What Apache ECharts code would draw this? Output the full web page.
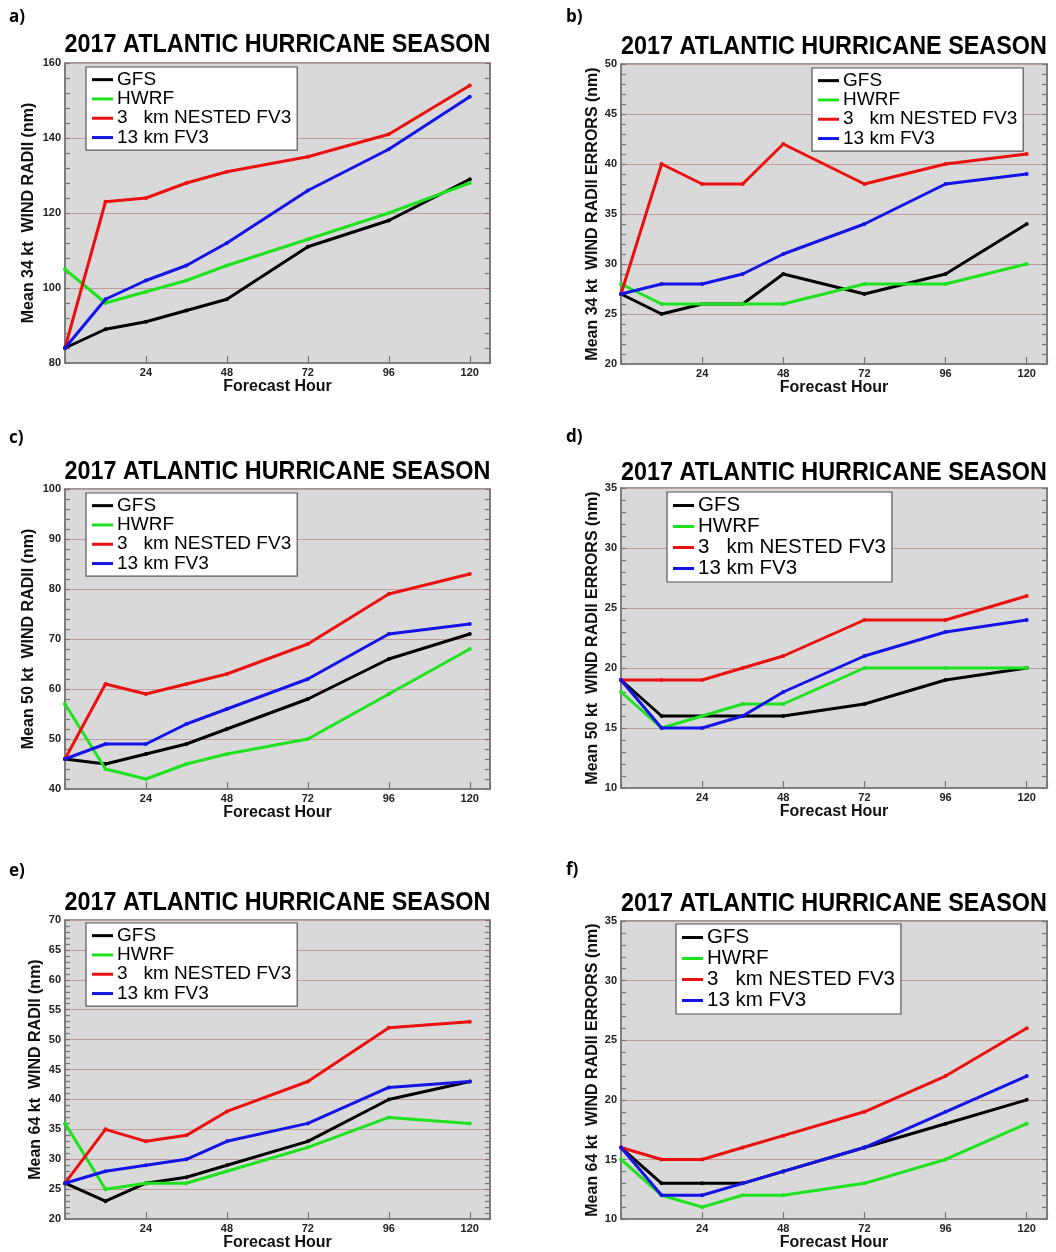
<!DOCTYPE html>
<html>
<head>
<meta charset="utf-8">
<script src="https://cdn.jsdelivr.net/npm/echarts@6/dist/echarts.min.js"></script>
<style>
html,body{margin:0;padding:0;background:#fff;}
#chart{width:1056px;height:1252px;}
</style>
</head>
<body>
<div id="chart"></div>
<script>
// ---------------- DATA ----------------
const hours = [0, 12, 24, 36, 48, 72, 96, 120];
const seriesNames = ['GFS', 'HWRF', '3   km NESTED FV3', '13 km FV3'];
const panelLetters = ['a)', 'b)', 'c)', 'd)', 'e)', 'f)'];
const titleText = '2017 ATLANTIC HURRICANE SEASON';
const xAxisTitle = 'Forecast Hour';
const yAxisTitles = [
  'Mean 34 kt  WIND RADII (nm)',
  'Mean 34 kt  WIND RADII ERRORS (nm)',
  'Mean 50 kt  WIND RADII (nm)',
  'Mean 50 kt  WIND RADII ERRORS (nm)',
  'Mean 64 kt  WIND RADII (nm)',
  'Mean 64 kt  WIND RADII ERRORS (nm)'
];
const yMin = [80, 20, 40, 10, 20, 10];
const yMax = [160, 50, 100, 35, 70, 35];
const yStep = [20, 5, 10, 5, 5, 5];
const xTicks = [24, 48, 72, 96, 120];

// a) Mean 34 kt wind radii
const a_gfs    = [84, 89, 91, 94, 97, 111, 118, 129];
const a_hwrf   = [105, 96, 99, 102, 106, 113, 120, 128];
const a_nested = [84, 123, 124, 128, 131, 135, 141, 154];
const a_fv3    = [84, 97, 102, 106, 112, 126, 137, 151];
// b) Mean 34 kt wind radii errors
const b_gfs    = [27, 25, 26, 26, 29, 27, 29, 34];
const b_hwrf   = [28, 26, 26, 26, 26, 28, 28, 30];
const b_nested = [27, 40, 38, 38, 42, 38, 40, 41];
const b_fv3    = [27, 28, 28, 29, 31, 34, 38, 39];
// c) Mean 50 kt wind radii
const c_gfs    = [46, 45, 47, 49, 52, 58, 66, 71];
const c_hwrf   = [57, 44, 42, 45, 47, 50, 59, 68];
const c_nested = [46, 61, 59, 61, 63, 69, 79, 83];
const c_fv3    = [46, 49, 49, 53, 56, 62, 71, 73];
// d) Mean 50 kt wind radii errors
const d_gfs    = [19, 16, 16, 16, 16, 17, 19, 20];
const d_hwrf   = [18, 15, 16, 17, 17, 20, 20, 20];
const d_nested = [19, 19, 19, 20, 21, 24, 24, 26];
const d_fv3    = [19, 15, 15, 16, 18, 21, 23, 24];
// e) Mean 64 kt wind radii
const e_gfs    = [26, 23, 26, 27, 29, 33, 40, 43];
const e_hwrf   = [36, 25, 26, 26, 28, 32, 37, 36];
const e_nested = [26, 35, 33, 34, 38, 43, 52, 53];
const e_fv3    = [26, 28, 29, 30, 33, 36, 42, 43];
// f) Mean 64 kt wind radii errors
const f_gfs    = [16, 13, 13, 13, 14, 16, 18, 20];
const f_hwrf   = [15, 12, 11, 12, 12, 13, 15, 18];
const f_nested = [16, 15, 15, 16, 17, 19, 22, 26];
const f_fv3    = [16, 12, 12, 13, 14, 16, 19, 22];

const panels = [
  [a_gfs, a_hwrf, a_nested, a_fv3],
  [b_gfs, b_hwrf, b_nested, b_fv3],
  [c_gfs, c_hwrf, c_nested, c_fv3],
  [d_gfs, d_hwrf, d_nested, d_fv3],
  [e_gfs, e_hwrf, e_nested, e_fv3],
  [f_gfs, f_hwrf, f_nested, f_fv3]
];

// ---------------- LAYOUT / STYLE ----------------
const lineColors = ['#000000', '#1fe21f', '#ea1010', '#1414e6'];
const grids = [
  {left: 65,  top: 63,  width: 425, height: 300},
  {left: 621, top: 64,  width: 426, height: 300},
  {left: 65,  top: 489, width: 425, height: 300},
  {left: 621, top: 488, width: 426, height: 300},
  {left: 65,  top: 920, width: 425, height: 300},
  {left: 621, top: 921, width: 426, height: 301}
];
const legendPos = [
  {left: 86,  top: 67,  fs: 19,   lh: 19.3},
  {left: 812, top: 68,  fs: 19,   lh: 19.3},
  {left: 86,  top: 493, fs: 19,   lh: 19.3},
  {left: 667, top: 492, fs: 20.5, lh: 20.3},
  {left: 86,  top: 923, fs: 19,   lh: 19.3},
  {left: 676, top: 924, fs: 20.5, lh: 20.3}
];
const titleY = [45, 47, 472, 473, 903, 904];
const letterPos = [[9, 17], [566, 17], [9, 438], [566, 437], [9, 871], [566, 870]];
const yNameGap = [28, 20, 28, 20, 21, 20];

const axisGray = '#777777';
const gridLineColor = '#c29c9c';
const plotBg = '#d9d9d9';
const FONT = 'Liberation Sans, Arial, sans-serif';

const option = {
  animation: false,
  backgroundColor: '#ffffff',
  grid: grids.map(g => Object.assign({}, g, {
    show: true, backgroundColor: plotBg, borderColor: axisGray, borderWidth: 1.5, containLabel: false
  })),
  xAxis: [],
  yAxis: [],
  legend: [],
  series: [],
  graphic: []
};

for (let i = 0; i < 6; i++) {
  option.xAxis.push({
    type: 'value', gridIndex: i, min: 0, max: 126, interval: 24,
    name: xAxisTitle, nameLocation: 'middle', nameGap: 15,
    nameTextStyle: {fontFamily: FONT, fontWeight: 'bold', fontSize: 16, color: '#111'},
    axisLine: {show: true, onZero: false, lineStyle: {color: axisGray, width: 1.5}},
    axisTick: {show: true, inside: true, length: 7, lineStyle: {color: axisGray, width: 1.2}},
    axisLabel: {
      show: true, margin: 4, fontFamily: FONT, fontWeight: 'bold', fontSize: 11, color: '#222',
      formatter: v => (xTicks.indexOf(v) >= 0 ? String(v) : '')
    },
    splitLine: {show: false}
  });
  // left y axis
  option.yAxis.push({
    type: 'value', gridIndex: i, min: yMin[i], max: yMax[i], interval: yStep[i], position: 'left',
    name: yAxisTitles[i], nameLocation: 'middle', nameGap: yNameGap[i],
    nameTextStyle: {fontFamily: FONT, fontWeight: 'bold', fontSize: 16, color: '#111'},
    axisLine: {show: true, lineStyle: {color: axisGray, width: 1.5}},
    axisTick: {show: true, inside: true, length: 5, lineStyle: {color: axisGray, width: 1.2}},
    minorTick: {show: true, splitNumber: 5, length: 5, lineStyle: {color: axisGray, width: 1.2}},
    axisLabel: {show: true, margin: 4, fontFamily: FONT, fontWeight: 'bold', fontSize: 11, color: '#222'},
    splitLine: {show: true, lineStyle: {color: gridLineColor, width: 1}}
  });
  // right mirrored y axis
  option.yAxis.push({
    type: 'value', gridIndex: i, min: yMin[i], max: yMax[i], interval: yStep[i], position: 'right',
    axisLine: {show: true, lineStyle: {color: axisGray, width: 1.5}},
    axisTick: {show: true, inside: true, length: 5, lineStyle: {color: axisGray, width: 1.2}},
    minorTick: {show: true, splitNumber: 5, length: 5, lineStyle: {color: axisGray, width: 1.2}},
    axisLabel: {show: false},
    splitLine: {show: false}
  });

  const lp = legendPos[i];
  option.legend.push({
    show: true, orient: 'vertical', left: lp.left, top: lp.top,
    data: seriesNames.slice(),
    selectedMode: false,
    backgroundColor: '#ffffff', borderColor: '#555555', borderWidth: 1.2,
    padding: [3, 6, 3, 6],
    itemWidth: 21, itemHeight: 3, itemGap: 0,
    icon: 'rect',
    textStyle: {fontFamily: FONT, fontSize: lp.fs, lineHeight: lp.lh, color: '#000', padding: [0, 0, 0, -1]}
  });

  panels[i].forEach((vals, s) => {
    option.series.push({
      type: 'line', name: seriesNames[s], xAxisIndex: i, yAxisIndex: 2 * i,
      data: hours.map((h, k) => [h, vals[k]]),
      color: lineColors[s],
      lineStyle: {width: 3, color: lineColors[s]},
      itemStyle: {color: lineColors[s]},
      symbol: 'circle', symbolSize: 4, showSymbol: true,
      z: 2 + s
    });
  });

  const g = grids[i];
  option.graphic.push({
    type: 'text', x: g.left + g.width / 2, y: titleY[i], scaleY: 1.08,
    style: {
      text: titleText, font: 'bold 23.4px ' + FONT, fill: '#000',
      textAlign: 'center', textVerticalAlign: 'middle'
    }
  });
  option.graphic.push({
    type: 'text', x: letterPos[i][0], y: letterPos[i][1],
    style: {
      text: panelLetters[i], font: 'bold 17px Open Sans, ' + FONT, fill: '#000',
      textAlign: 'left', textVerticalAlign: 'middle'
    }
  });
}

const chart = echarts.init(document.getElementById('chart'), null, {renderer: 'canvas'});
chart.setOption(option);
</script>
</body>
</html>
